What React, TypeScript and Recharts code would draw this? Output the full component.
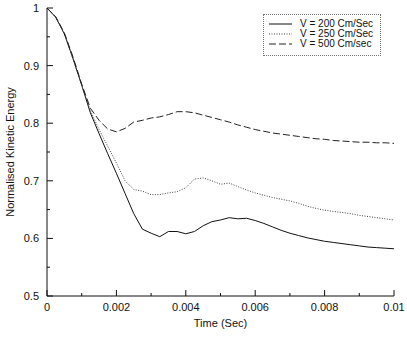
import { LineChart, Line, XAxis, YAxis, Label } from "recharts";

const times = [
  0, 0.00025, 0.0005, 0.00075, 0.001, 0.00125, 0.0015, 0.00175, 0.002, 0.00225,
  0.0025, 0.00275, 0.003, 0.00325, 0.0035, 0.00375, 0.004, 0.00425, 0.0045,
  0.00475, 0.005, 0.00525, 0.0055, 0.00575, 0.006, 0.00625, 0.0065, 0.00675,
  0.007, 0.00725, 0.0075, 0.00775, 0.008, 0.00825, 0.0085, 0.00875, 0.009,
  0.00925, 0.0095, 0.00975, 0.01,
];

const v200 = [
  1, 0.984, 0.955, 0.912, 0.866, 0.818, 0.782, 0.747, 0.713, 0.678, 0.643,
  0.616, 0.609, 0.603, 0.612, 0.612, 0.608, 0.612, 0.622, 0.629, 0.632, 0.636,
  0.634, 0.635, 0.631, 0.626, 0.62, 0.614, 0.609, 0.605, 0.601, 0.598, 0.595,
  0.593, 0.591, 0.589, 0.587, 0.585, 0.584, 0.583, 0.582,
];

const v250 = [
  1, 0.984, 0.955, 0.912, 0.866, 0.822, 0.789, 0.76, 0.731, 0.7, 0.685, 0.682,
  0.676, 0.676, 0.679, 0.681, 0.688, 0.703, 0.705, 0.7, 0.694, 0.696, 0.69,
  0.684, 0.679, 0.675, 0.671, 0.668, 0.665, 0.661, 0.656, 0.652, 0.649, 0.647,
  0.645, 0.643, 0.64, 0.638, 0.636, 0.634, 0.632,
];

const v500 = [
  1, 0.985, 0.957, 0.915, 0.868, 0.826, 0.805, 0.79, 0.785, 0.791, 0.802,
  0.805, 0.809, 0.811, 0.815, 0.82, 0.82, 0.818, 0.814, 0.81, 0.806, 0.802,
  0.797, 0.793, 0.789, 0.786, 0.783, 0.781, 0.779, 0.777, 0.775, 0.773, 0.772,
  0.77, 0.769, 0.768, 0.767, 0.767, 0.766, 0.766, 0.765,
];

const xTicks = [0, 0.001, 0.002, 0.003, 0.004, 0.005, 0.006, 0.007, 0.008, 0.009, 0.01];
const xLabels: Record<string, string> = {
  "0": "0",
  "0.002": "0.002",
  "0.004": "0.004",
  "0.006": "0.006",
  "0.008": "0.008",
  "0.01": "0.01",
};
const yTicks = [0.5, 0.55, 0.6, 0.65, 0.7, 0.75, 0.8, 0.85, 0.9, 0.95, 1];
const yLabels: Record<string, string> = {
  "0.5": "0.5",
  "0.6": "0.6",
  "0.7": "0.7",
  "0.8": "0.8",
  "0.9": "0.9",
  "1": "1",
};

const series = [
  { key: "v200", name: "V = 200 Cm/Sec", dash: undefined, color: "#111" },
  { key: "v250", name: "V = 250 Cm/Sec", dash: "1 1.5", color: "#444" },
  { key: "v500", name: "V = 500 Cm/sec", dash: "7 3", color: "#222" },
];

const data = times.map((t, i) => ({
  t,
  v200: v200[i],
  v250: v250[i],
  v500: v500[i],
}));

const font = "'Liberation Sans', Arial, sans-serif";

const BottomTick = (p: any) => {
  const lbl = xLabels[String(p.payload.value)];
  return (
    <g>
      <line x1={p.x} x2={p.x} y1={p.y} y2={p.y - (lbl ? 6 : 3)} stroke="#111" />
      {lbl && (
        <text x={p.x} y={p.y + 15} textAnchor="middle" fontSize={11} fill="#111" fontFamily={font}>
          {lbl}
        </text>
      )}
    </g>
  );
};

const TopTick = (p: any) => {
  const major = xLabels[String(p.payload.value)];
  return <line x1={p.x} x2={p.x} y1={p.y} y2={p.y + (major ? 6 : 3)} stroke="#111" />;
};

const LeftTick = (p: any) => {
  const lbl = yLabels[String(p.payload.value)];
  return (
    <g>
      <line x1={p.x} x2={p.x + (lbl ? 6 : 3)} y1={p.y} y2={p.y} stroke="#111" />
      {lbl && (
        <text x={p.x - 8} y={p.y + 4} textAnchor="end" fontSize={11} fill="#111" fontFamily={font}>
          {lbl}
        </text>
      )}
    </g>
  );
};

const RightTick = (p: any) => {
  const major = yLabels[String(p.payload.value)];
  return <line x1={p.x} x2={p.x - (major ? 6 : 3)} y1={p.y} y2={p.y} stroke="#111" />;
};

const LegendBox = () => (
  <div
    style={{
      position: "absolute",
      top: 14,
      left: 263,
      width: 118,
      height: 42,
      border: "1px dotted #777",
      background: "#fff",
      boxSizing: "border-box",
      paddingTop: 4,
    }}
  >
    {series.map((s) => (
      <div key={s.key} style={{ display: "flex", alignItems: "center", height: 10 }}>
        <svg width={33} height={10} style={{ marginLeft: 3, flex: "none" }}>
          <line x1={2} x2={25} y1={5} y2={5} stroke={s.color} strokeDasharray={s.dash} />
        </svg>
        <span
          style={{
            fontSize: 10,
            lineHeight: "10px",
            fontFamily: font,
            color: "#111",
            whiteSpace: "nowrap",
          }}
        >
          {s.name}
        </span>
      </div>
    ))}
  </div>
);

export default function App() {
  return (
    <div style={{ position: "absolute", left: 0, top: 0, width: 407, height: 337, background: "#fff" }}>
      <LineChart
        width={407}
        height={337}
        data={data}
        margin={{ top: 8, right: 13, bottom: 0, left: 0 }}
      >
        <XAxis
          xAxisId="b"
          dataKey="t"
          type="number"
          domain={[0, 0.01]}
          ticks={xTicks}
          tickSize={0}
          tickMargin={0}
          tickLine={false}
          tick={<BottomTick />}
          height={41}
          stroke="#111"
          interval={0}
        >
          <Label
            content={({ viewBox }: any) => (
              <text
                x={viewBox.x + viewBox.width / 2}
                y={viewBox.y + 31}
                textAnchor="middle"
                fontSize={11}
                fill="#111"
                fontFamily={font}
              >
                Time (Sec)
              </text>
            )}
          />
        </XAxis>
        <XAxis
          xAxisId="t"
          orientation="top"
          dataKey="t"
          type="number"
          domain={[0, 0.01]}
          ticks={xTicks}
          tickSize={0}
          tickMargin={0}
          tickLine={false}
          tick={<TopTick />}
          height={0}
          stroke="#111"
          interval={0}
        />
        <YAxis
          yAxisId="l"
          type="number"
          domain={[0.5, 1]}
          ticks={yTicks}
          tickSize={0}
          tickMargin={0}
          tickLine={false}
          tick={<LeftTick />}
          width={47}
          stroke="#111"
          interval={0}
        >
          <Label
            content={({ viewBox }: any) => {
              const cx = viewBox.x + 10;
              const cy = viewBox.y + viewBox.height / 2;
              return (
                <text
                  x={cx}
                  y={cy}
                  transform={`rotate(-90, ${cx}, ${cy})`}
                  textAnchor="middle"
                  dominantBaseline="central"
                  fontSize={11}
                  fill="#111"
                  fontFamily={font}
                >
                  Normalised Kinetic Energy
                </text>
              );
            }}
          />
        </YAxis>
        <YAxis
          yAxisId="r"
          orientation="right"
          type="number"
          domain={[0.5, 1]}
          ticks={yTicks}
          tickSize={0}
          tickMargin={0}
          tickLine={false}
          tick={<RightTick />}
          width={0}
          stroke="#111"
          interval={0}
        />
        {series.map((s) => (
          <Line
            key={s.key}
            xAxisId="b"
            yAxisId="l"
            dataKey={s.key}
            name={s.name}
            type="linear"
            stroke={s.color}
            strokeWidth={1}
            strokeDasharray={s.dash}
            dot={false}
            isAnimationActive={false}
          />
        ))}
      </LineChart>
      <LegendBox />
    </div>
  );
}
